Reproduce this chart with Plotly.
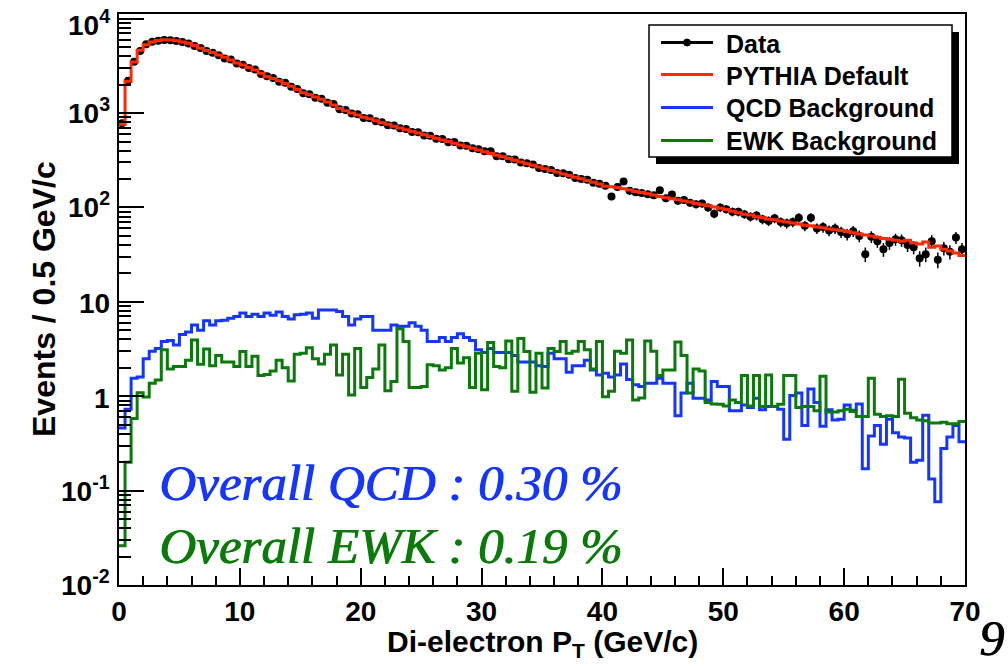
import numpy as np
import plotly.graph_objects as go

# ---------------- data (0.5 GeV/c bins, 0-70 GeV/c) ----------------
bin_edges = [i * 0.5 for i in range(141)]

pythia = [760, 2170, 3470, 4620, 5300, 5650, 5880, 5980, 5950, 5850,
          5680, 5480, 5200, 4880, 4600, 4380, 4130, 3900, 3650, 3400,
          3230, 3040, 2870, 2650, 2430, 2330, 2200, 2060, 1930, 1780,
          1640, 1560, 1480, 1400, 1310, 1220, 1120, 1060, 1000, 955,
          905, 870, 830, 790, 760, 725, 695, 667, 640, 614,
          589, 565, 542, 520, 499, 479, 459, 441, 423, 406,
          389, 374, 358, 344, 330, 316, 304, 291, 280, 268,
          257, 247, 237, 227, 218, 209, 201, 193, 185, 177,
          168, 166, 163, 158, 153, 148, 144, 140, 136, 131,
          127, 124, 121, 117, 114, 110, 107, 104, 101, 98,
          95, 91, 88, 85, 83, 80, 78, 75, 74, 72,
          70, 68.5, 67, 65, 64, 62, 61, 59, 58, 57,
          55.5, 54, 52.5, 51, 50, 48.5, 47, 46, 45, 44,
          45, 42, 41, 43, 38, 39, 36, 34.5, 33, 31]

data = [780, 2200, 3500, 4550, 5350, 5700, 5850, 5950, 5900, 5800,
        5650, 5450, 5150, 4900, 4550, 4350, 4100, 3800, 3700, 3350,
        3250, 3000, 2900, 2600, 2450, 2350, 2150, 2100, 1900, 1800,
        1620, 1580, 1450, 1420, 1290, 1250, 1100, 1080, 990, 970,
        890, 880, 820, 800, 745, 740, 690, 680, 630, 625,
        580, 575, 535, 530, 490, 495, 455, 450, 425, 415,
        395, 395, 350, 350, 325, 322, 300, 295, 285, 262,
        255, 250, 232, 230, 222, 205, 200, 197, 183, 178,
        170, 131, 165, 188, 150, 145, 142, 138, 135, 152,
        125, 137, 118, 120, 112, 108, 110, 100, 86, 100,
        96, 90, 90, 85, 80, 82, 75, 72, 77, 70,
        68, 70, 78, 64, 78, 60, 62, 57, 60, 55,
        52, 56, 50, 32, 49, 44, 36, 42, 46, 45,
        40, 38, 29, 32, 44, 28, 37, 34, 48, 36]

qcd = [0.46, 0.73, 1.55, 1.6, 2.5, 3.0, 3.2, 3.8, 3.9, 3.5,
       4.5, 4.8, 5.7, 5.0, 6.3, 5.7, 6.3, 6.4, 6.7, 7.0,
       7.6, 7.0, 7.4, 7.0, 7.6, 7.2, 7.8, 7.0, 6.6, 7.3,
       7.4, 7.6, 6.7, 8.2, 8.2, 8.2, 7.9, 7.0, 5.7, 6.6,
       7.0, 7.0, 5.0, 5.0, 5.0, 5.7, 5.5, 5.5, 6.0, 5.5,
       5.0, 3.8, 3.8, 4.2, 3.8, 4.2, 4.6, 4.2, 3.9, 3.1,
       2.9, 3.2, 2.9, 2.9, 2.9, 2.7, 2.3, 2.3, 2.3, 2.1,
       2.06, 2.85, 2.5, 2.5, 1.8, 2.1, 2.1, 2.4, 1.9, 1.68,
       1.75, 1.6, 1.68, 2.2, 1.5, 1.32, 1.27, 1.37, 1.37, 1.55,
       1.37, 1.37, 0.62, 1.08, 1.37, 0.95, 0.95, 0.91, 1.43, 1.27,
       1.27, 0.70, 0.70, 0.81, 0.76, 0.95, 0.72, 0.78, 0.78, 0.73,
       0.35, 1.02, 1.08, 0.49, 1.19, 0.86, 0.48, 0.72, 0.56, 0.57,
       0.81, 0.71, 0.83, 0.17, 0.38, 0.49, 0.31, 0.57, 0.41, 0.37,
       0.36, 0.20, 0.21, 0.63, 0.133, 0.076, 0.28, 0.37, 0.49, 0.33]

ewk = [0.026, 0.20, 0.58, 1.09, 0.98, 1.37, 1.49, 3.1, 1.94, 2.06,
       2.06, 2.4, 3.95, 2.18, 3.17, 2.1, 2.7, 2.3, 2.3, 2.06,
       2.97, 2.06, 2.65, 1.66, 1.7, 1.85, 2.4, 2.0, 1.45, 2.78,
       2.85, 3.27, 2.5, 2.2, 2.78, 3.5, 1.68, 2.78, 1.03, 3.2,
       1.24, 1.58, 1.94, 3.5, 1.14, 1.43, 5.2, 3.8, 1.24, 1.24,
       1.27, 2.15, 2.1, 1.9, 2.0, 3.2, 2.25, 2.55, 1.24, 2.85,
       1.17, 3.7, 2.06, 2.0, 3.85, 1.13, 4.1, 2.97, 1.1, 2.85,
       1.22, 3.2, 2.97, 3.8, 2.85, 3.0, 3.8, 3.1, 1.94, 3.8,
       0.99, 1.13, 3.0, 2.85, 3.95, 0.91, 0.96, 3.85, 3.0, 1.66,
       1.9, 1.9, 3.75, 2.7, 1.08, 1.94, 1.85, 0.86, 0.83, 0.82,
       0.79, 0.91, 0.86, 1.66, 0.79, 1.66, 0.78, 1.68, 0.78, 0.82,
       1.66, 1.66, 0.76, 0.78, 0.78, 0.70, 1.63, 0.68, 0.68, 0.70,
       0.73, 0.69, 0.61, 0.61, 1.55, 0.645, 0.61, 0.62, 0.61, 1.51,
       0.66, 0.59, 0.56, 0.55, 0.52, 0.52, 0.53, 0.51, 0.51, 0.54]

x_ticks = [0, 10, 20, 30, 40, 50, 60, 70]
y_ticks = [1e-2, 1e-1, 1, 10, 1e2, 1e3, 1e4]
y_tick_text = ["10<sup>-2</sup>", "10<sup>-1</sup>", "1", "10",
               "10<sup>2</sup>", "10<sup>3</sup>", "10<sup>4</sup>"]

legend_labels = ["Data", "PYTHIA Default", "QCD Background", "EWK Background"]
qcd_text = "Overall QCD : 0.30 %"
ewk_text = "Overall EWK : 0.19 %"

# ---------------- styling ----------------
RED = "#ff2a00"
BLUE = "#1436ff"
GREEN = "#0a7a0a"
SANS = "Liberation Sans, Arial, sans-serif"
SERIF = "Liberation Serif, Times New Roman, serif"

W, H = 1008, 666
X0, X1, Y0, Y1 = 119, 965, 14, 585
YLOG0, YLOG1 = -2.0, 4.05


def px(x):
    return (x - X0) / (X1 - X0)


def py(y):
    return (Y1 - y) / (Y1 - Y0)


centers = [(bin_edges[i] + bin_edges[i + 1]) / 2 for i in range(len(data))]


def step(vals):
    return bin_edges, list(vals) + [vals[-1]]


fig = go.Figure()

fig.add_trace(go.Scatter(
    x=centers, y=data, mode="markers",
    marker=dict(color="black", size=8),
    error_y=dict(type="data", array=[np.sqrt(v) for v in data],
                 color="black", thickness=1.5, width=0),
    showlegend=False, name=legend_labels[0]))

for vals, col, name in [(qcd, BLUE, legend_labels[2]),
                        (ewk, GREEN, legend_labels[3]),
                        (pythia, RED, legend_labels[1])]:
    xs, ys = step(vals)
    fig.add_trace(go.Scatter(x=xs, y=ys, mode="lines", line_shape="hv",
                             line=dict(color=col, width=3),
                             showlegend=False, name=name))

minor_y = [m * 10 ** k for k in range(-2, 4) for m in range(2, 10)]

fig.update_layout(
    width=W, height=H,
    margin=dict(l=X0, r=W - X1, t=Y0, b=H - Y1),
    paper_bgcolor="white", plot_bgcolor="white",
    showlegend=False,
    font=dict(family=SANS, color="black"),
    xaxis=dict(range=[0, 70], showgrid=False, zeroline=False,
               showline=True, linecolor="black", linewidth=2, mirror=True,
               ticks="inside", ticklen=17, tickwidth=2, tickcolor="black",
               tickmode="array", tickvals=x_ticks,
               ticktext=["<b>%d</b>" % t for t in x_ticks],
               tickfont=dict(size=28, family=SANS, color="black"),
               minor=dict(ticks="inside", ticklen=9, tickwidth=2,
                          tickcolor="black", dtick=2, showgrid=False)),
    yaxis=dict(type="log", range=[YLOG0, YLOG1], showgrid=False,
               zeroline=False, showticklabels=False,
               showline=True, linecolor="black", linewidth=2, mirror=True,
               ticks="inside", ticklen=25, tickwidth=2, tickcolor="black",
               tickmode="array", tickvals=y_ticks,
               minor=dict(ticks="inside", ticklen=12, tickwidth=2,
                          tickcolor="black", tickmode="array",
                          tickvals=minor_y, showgrid=False)),
)

ann = []
# y tick labels (ROOT-like 10^n)
for v, t in zip(y_ticks, y_tick_text):
    yfrac = (np.log10(v) - YLOG0) / (YLOG1 - YLOG0)
    shift = -4 if v >= 1e4 else 2
    if "sup" not in t:
        shift = -2
    ann.append(dict(text="<b>%s</b>" % t, x=px(112), y=yfrac,
                    xref="paper", yref="paper", xanchor="right",
                    yanchor="middle", yshift=shift, showarrow=False,
                    font=dict(size=28, family=SANS, color="black")))

# axis titles
ann.append(dict(text="<b>Di-electron P<sub>T</sub> (GeV/c)</b>",
                x=0.5, y=py(643), xref="paper", yref="paper",
                xanchor="center", yanchor="middle", showarrow=False,
                font=dict(size=30, family=SANS, color="black")))
ann.append(dict(text="<b>Events / 0.5 GeV/c</b>", textangle=-90,
                x=px(44), y=py(299), xref="paper", yref="paper",
                xanchor="center", yanchor="middle", showarrow=False,
                font=dict(size=32, family=SANS, color="black")))
# overall fractions
ann.append(dict(text="<i>%s</i>" % qcd_text, x=px(157), y=py(483),
                xref="paper", yref="paper", xanchor="left", yanchor="middle",
                showarrow=False,
                font=dict(size=51, family=SERIF, color=BLUE,
                          shadow="1px 0px 0px %s" % BLUE)))
ann.append(dict(text="<i>%s</i>" % ewk_text, x=px(157), y=py(546),
                xref="paper", yref="paper", xanchor="left", yanchor="middle",
                showarrow=False,
                font=dict(size=51, family=SERIF, color=GREEN,
                          shadow="1px 0px 0px %s" % GREEN)))
# page number
ann.append(dict(text="<i>9</i>", x=px(991), y=py(638), xref="paper",
                yref="paper", xanchor="center", yanchor="middle",
                showarrow=False,
                font=dict(size=50, family=SERIF, color="black",
                          shadow="1px 0px 0px black")))

# legend (drawn manually, ROOT style with shadow)
shapes = []
LX0, LY0, LX1, LY1 = 649, 25, 952, 157
shapes.append(dict(type="rect", xref="paper", yref="paper",
                   x0=px(LX0 + 7), x1=px(LX1 + 7), y0=py(LY1 + 7), y1=py(LY0 + 7),
                   fillcolor="black", line=dict(width=0)))
shapes.append(dict(type="rect", xref="paper", yref="paper",
                   x0=px(LX0), x1=px(LX1), y0=py(LY1), y1=py(LY0),
                   fillcolor="white", line=dict(color="black", width=1.5)))
rows = [42.5, 74.5, 107.5, 140.5]
cols = ["black", RED, BLUE, GREEN]
for yy, col, lab in zip(rows, cols, legend_labels):
    shapes.append(dict(type="line", xref="paper", yref="paper",
                       x0=px(661), x1=px(713), y0=py(yy), y1=py(yy),
                       line=dict(color=col, width=3)))
    ann.append(dict(text="<b>%s</b>" % lab, x=px(724), y=py(yy + 1),
                    xref="paper", yref="paper", xanchor="left",
                    yanchor="middle", showarrow=False,
                    font=dict(size=25, family=SANS, color="black")))
shapes.append(dict(type="circle", xref="paper", yref="paper",
                   x0=px(683.5), x1=px(690.5), y0=py(46), y1=py(39),
                   fillcolor="black", line=dict(color="black", width=1)))

fig.update_layout(annotations=ann, shapes=shapes)
fig.write_html("out.html")
